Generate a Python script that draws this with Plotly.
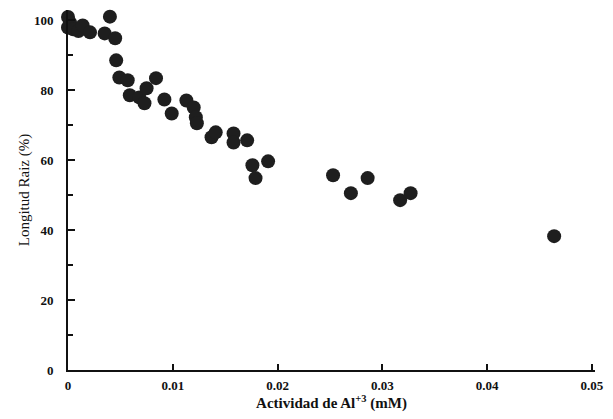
import plotly.graph_objects as go

al_activity = [0.0, 0.0002, 0.0, 0.0005, 0.0010, 0.0014, 0.0021, 0.0035, 0.0040, 0.0045,
               0.0046, 0.0049, 0.0057, 0.0059, 0.0068, 0.0073, 0.0075, 0.0084, 0.0092,
               0.0099, 0.0113, 0.0120, 0.0122, 0.0123, 0.0137, 0.0141, 0.0158, 0.0158,
               0.0171, 0.0176, 0.0179, 0.0191, 0.0253, 0.0270, 0.0286, 0.0317, 0.0327,
               0.0464]
root_length = [101.0, 99.4, 98.0, 97.5, 97.0, 98.6, 96.6, 96.3, 101.1, 94.9,
               88.6, 83.7, 82.9, 78.6, 78.0, 76.3, 80.6, 83.5, 77.4,
               73.4, 77.1, 75.1, 72.3, 70.6, 66.6, 68.0, 67.7, 65.1,
               65.7, 58.6, 54.9, 59.7, 55.7, 50.6, 54.9, 48.6, 50.6,
               38.3]

x_ticks = [0, 0.01, 0.02, 0.03, 0.04, 0.05]
x_tick_labels = ["0", "0.01", "0.02", "0.03", "0.04", "0.05"]
y_ticks = [0, 20, 40, 60, 80, 100]
y_tick_labels = ["0", "20", "40", "60", "80", "100"]

fig = go.Figure()
fig.add_trace(go.Scatter(
    x=al_activity, y=root_length, mode="markers",
    marker=dict(size=14, color="#1e1e1e", line=dict(width=0)),
    cliponaxis=False, showlegend=False,
))

serif = "Liberation Serif, Times New Roman, serif"
fig.update_layout(
    width=613, height=419,
    margin=dict(l=68, r=18, t=10, b=49),
    paper_bgcolor="white", plot_bgcolor="white",
    font=dict(family=serif, color="#111"),
)
fig.update_xaxes(
    range=[0, 0.0503], tickvals=x_ticks, ticktext=x_tick_labels,
    ticks="inside", ticklen=6, tickwidth=2, tickcolor="#111",
    showline=True, linecolor="#111", linewidth=2, showgrid=False, zeroline=False,
    automargin=False, ticklabelstandoff=2,
    tickfont=dict(family=serif, size=13, color="#111", weight="bold"),
    title=dict(text="<b>Actividad de Al<sup>+3</sup> (mM)</b>", font=dict(size=15, family=serif), standoff=4),
)
fig.update_yaxes(
    range=[0, 103], tickvals=y_ticks, ticktext=y_tick_labels,
    ticks="inside", ticklen=7, tickwidth=2, tickcolor="#111",
    minor=dict(tickvals=[10, 30, 50, 70, 90], ticks="inside", ticklen=5, tickwidth=2, tickcolor="#111"),
    showline=True, linecolor="#111", linewidth=2, showgrid=False, zeroline=False,
    automargin=False, ticklabelstandoff=10,
    tickfont=dict(family=serif, size=13, color="#111", weight="bold"),
    title=dict(text="Longitud Raiz (%)", font=dict(size=15, family=serif), standoff=1),
)
fig.write_html(
    "out.html",
    config={"displayModeBar": False},
    post_script="document.body.style.margin='0';document.body.style.overflow='hidden';",
)
